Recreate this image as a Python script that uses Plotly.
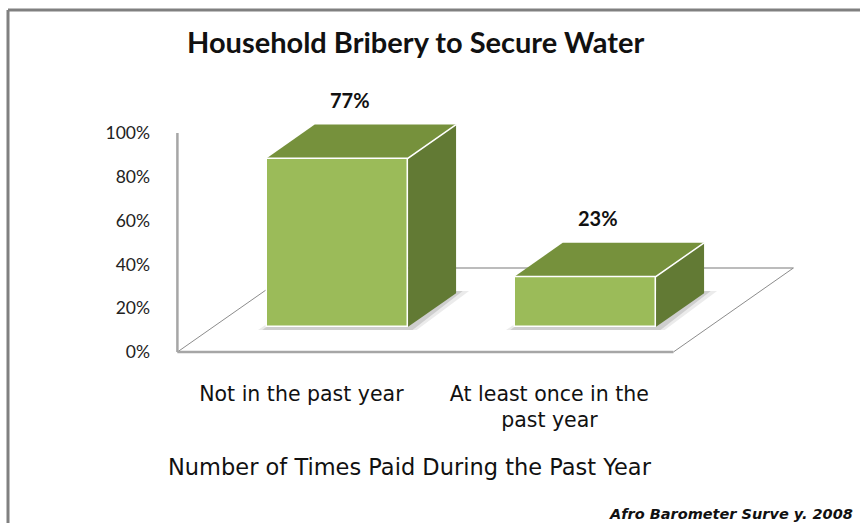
import plotly.graph_objects as go

# ---- data -------------------------------------------------------------
categories = ["Not in the past year", "At least once in the<br>past year"]
shares = [77, 23]                      # percent of households
y_ticks = [0, 20, 40, 60, 80, 100]
y_tick_text = ["0%", "20%", "40%", "60%", "80%", "100%"]
value_labels = ["77%", "23%"]

title_text = "Household Bribery to Secure Water"
x_title_text = "Number of Times Paid During the Past Year"
source_text = "Afro Barometer Surve y. 2008"

# ---- canvas / axis geometry ------------------------------------------
W, H = 860, 523
ML, MR, MT, MB = 165, 60, 90, 161
PW, PH = W - ML - MR, H - MT - MB
PX_PER_X = 248.0          # pixels per category slot
PX_PER_Y = 2.19           # pixels per percentage point
ZERO_PX = 352             # page row of the 0% level on the front plane

x0 = -0.55
x1 = x0 + PW / PX_PER_X
y0 = -((H - MB) - ZERO_PX) / PX_PER_Y
y1 = y0 + PH / PX_PER_Y

# oblique depth of the floor, expressed in axis units
DX = 120 / PX_PER_X
DY = 84 / PX_PER_Y
BAR_W = 0.57
D_FRONT, D_BACK = 0.3, 0.7          # bars sit in the middle of the floor depth

FRONT = "#9BBB59"
TOP = "#76913C"
SIDE = "#627A34"
GRID = "#A6A6A6"


def xp(px):
    return (px - ML) / PW


def yp(py):
    return (H - MB - py) / PH


fig = go.Figure()

# front faces of the bars
fx = [i + D_FRONT * DX for i in range(len(shares))]
fig.add_trace(go.Bar(
    x=fx, y=shares, base=D_FRONT * DY, width=BAR_W,
    marker=dict(color=FRONT, line=dict(color="white", width=1.5)),
    hoverinfo="skip", showlegend=False,
))

shapes = []
bdx = (D_BACK - D_FRONT) * DX
bdy = (D_BACK - D_FRONT) * DY
for i, v in enumerate(shares):
    xl = fx[i] - BAR_W / 2
    xr = fx[i] + BAR_W / 2
    yb = D_FRONT * DY
    yt = yb + v
    # top face
    fig.add_trace(go.Scatter(
        x=[xl, xr, xr + bdx, xl + bdx, xl],
        y=[yt, yt, yt + bdy, yt + bdy, yt],
        fill="toself", fillcolor=TOP, mode="lines",
        line=dict(width=0, color=TOP), hoverinfo="skip", showlegend=False,
    ))
    # side face
    fig.add_trace(go.Scatter(
        x=[xr, xr + bdx, xr + bdx, xr, xr],
        y=[yb, yb + bdy, yt + bdy, yt, yb],
        fill="toself", fillcolor=SIDE, mode="lines",
        line=dict(width=0, color=SIDE), hoverinfo="skip", showlegend=False,
    ))
    # highlight along the top/side edge and the front top edge
    fig.add_trace(go.Scatter(
        x=[xr + bdx, xr, xl], y=[yt + bdy, yt, yt], mode="lines",
        line=dict(color="white", width=1.5), hoverinfo="skip", showlegend=False,
    ))
    # soft base shadow
    for grow, alpha in ((0.035, 0.08), (0.018, 0.12)):
        shapes.append(dict(
            type="path", xref="x", yref="y", layer="below",
            path=(f"M{xl - grow},{yb - 1.5} L{xr + grow},{yb - 1.5} "
                  f"L{xr + bdx + grow * 1.5},{yb + bdy + 1} "
                  f"L{xl + bdx},{yb + bdy + 1} Z"),
            fillcolor=f"rgba(0,0,0,{alpha})", line=dict(width=0),
        ))

# floor outline and the front edge of the side wall
n = len(shares)
fl, fr = -0.5, n - 0.5
shapes += [
    dict(type="line", xref="x", yref="y", x0=fl + DX, y0=DY, x1=fr + DX, y1=DY,
         line=dict(color=GRID, width=1.5), layer="below"),
    dict(type="line", xref="x", yref="y", x0=fl, y0=0, x1=fl + DX, y1=DY,
         line=dict(color="#8C8C8C", width=1), layer="below"),
    dict(type="line", xref="x", yref="y", x0=fr, y0=0, x1=fr + DX, y1=DY,
         line=dict(color="#8C8C8C", width=1), layer="below"),
    dict(type="line", xref="x", yref="y", x0=fl, y0=0, x1=fr, y1=0,
         line=dict(color=GRID, width=2.5), layer="below"),
    dict(type="line", xref="x", yref="y", x0=fl, y0=0, x1=fl, y1=y_ticks[-1],
         line=dict(color=GRID, width=2.5), layer="below"),
]

# outer frame of the chart area
shapes += [
    dict(type="line", xref="paper", yref="paper", x0=xp(8), y0=yp(10), x1=xp(W + 5), y1=yp(10),
         line=dict(color="#808080", width=3)),
    dict(type="line", xref="paper", yref="paper", x0=xp(8), y0=yp(10), x1=xp(8), y1=yp(H + 5),
         line=dict(color="#808080", width=3)),
]

annotations = []
for i, v in enumerate(shares):
    annotations.append(dict(
        x=fx[i] + 0.05, y=v + D_BACK * DY, xref="x", yref="y",
        text=f"<b>{value_labels[i]}</b>", showarrow=False,
        yanchor="bottom", yshift=11,
        font=dict(family="Lato", size=20, color="#111111"),
    ))

annotations += [
    dict(x=xp(415), y=yp(42), xref="paper", yref="paper", text=f"<b>{title_text}</b>",
         showarrow=False, xanchor="center", yanchor="middle",
         font=dict(family="Lato", size=29, color="#111111")),
    dict(x=xp(410), y=yp(467), xref="paper", yref="paper", text=x_title_text,
         showarrow=False, xanchor="center", yanchor="middle",
         font=dict(family="DejaVu Sans", size=22.5, color="#111111")),
    dict(x=xp(855), y=yp(514), xref="paper", yref="paper", text=f"<b><i>{source_text}</i></b>",
         showarrow=False, xanchor="right", yanchor="middle",
         font=dict(family="DejaVu Sans", size=14.5, color="#111111")),
]

fig.update_layout(
    width=W, height=H,
    margin=dict(l=ML, r=MR, t=MT, b=MB, pad=0),
    paper_bgcolor="white", plot_bgcolor="white",
    shapes=shapes, annotations=annotations,
    showlegend=False, bargap=0,
    xaxis=dict(range=[x0, x1], tickvals=list(range(n)), ticktext=categories,
               showgrid=False, zeroline=False, showline=False, ticks="",
               ticklabelstandoff=17,
               tickfont=dict(family="DejaVu Sans", size=20.5, color="#111111")),
    yaxis=dict(range=[y0, y1], tickvals=y_ticks, ticktext=y_tick_text,
               showgrid=False, zeroline=False, showline=False, ticks="",
               ticklabelstandoff=14,
               tickfont=dict(family="Lato", size=17.5, color="#222222")),
)

fig.write_html("out.html")
